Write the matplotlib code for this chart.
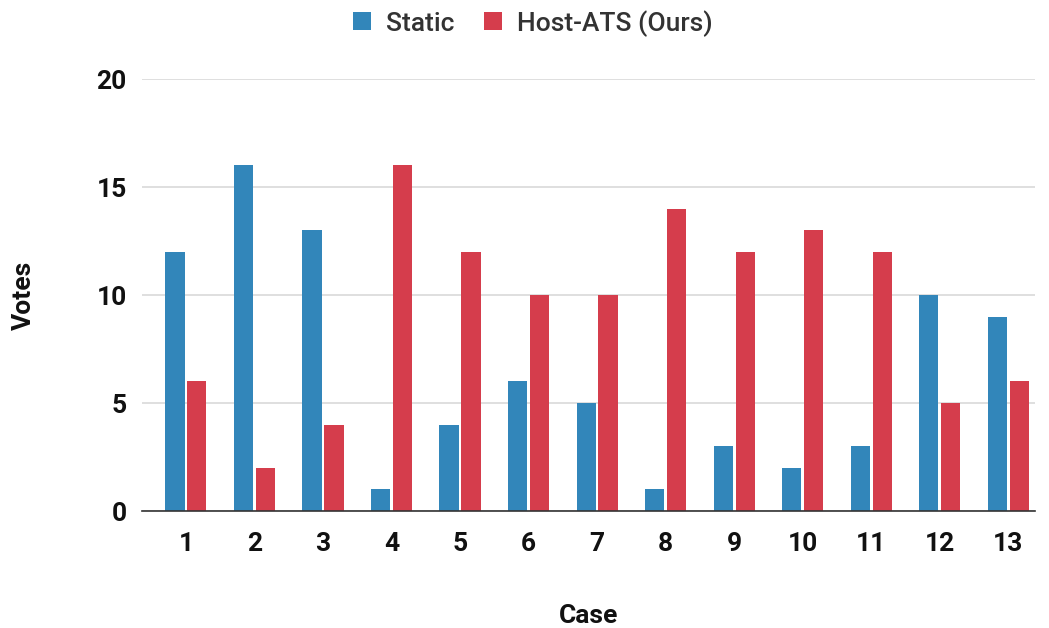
import matplotlib
matplotlib.use("Agg")
import matplotlib.pyplot as plt
import numpy as np

plt.rcParams['font.family'] = ['Roboto', 'DejaVu Sans']

cases = ['1', '2', '3', '4', '5', '6', '7', '8', '9', '10', '11', '12', '13']
static_votes = [12, 16, 13, 1, 4, 6, 5, 1, 3, 2, 3, 10, 9]
host_ats_votes = [6, 2, 4, 16, 12, 10, 10, 14, 12, 13, 12, 5, 6]

blue = '#3286BA'
red = '#D53D4C'

fig = plt.figure(figsize=(10.49, 6.28), dpi=100)
ax = fig.add_axes([0.1354, 0.1863, 0.8513, 0.6879])

x = np.arange(len(cases))
w = 0.28
gap = 0.02
ax.bar(x - w / 2 - gap, static_votes, w, color=blue, label='Static', zorder=3)
ax.bar(x + w / 2 + gap, host_ats_votes, w, color=red, label='Host-ATS (Ours)', zorder=3)

ax.set_xlim(-0.64, 12.39)
ax.set_ylim(0, 20)
ax.set_yticks([0, 5, 10, 15, 20])
ax.set_xticks(x)
ax.set_xticklabels(cases)
ax.yaxis.grid(True, color='#d9d9d9', linewidth=1.2, zorder=0)
for s in ['top', 'right', 'left']:
    ax.spines[s].set_visible(False)
ax.spines['bottom'].set_color('#333333')
ax.spines['bottom'].set_linewidth(1.2)
ax.spines['bottom'].set_zorder(4)
ax.tick_params(axis='both', length=0, labelsize=19, colors='#111111')
ax.tick_params(axis='x', pad=15)
ax.tick_params(axis='y', pad=11)
for lbl in ax.get_xticklabels() + ax.get_yticklabels():
    lbl.set_fontweight('bold')

ax.set_xlabel('Case', fontsize=19, fontweight='bold', color='#111111', labelpad=35)
ax.set_ylabel('Votes', fontsize=19, fontweight='bold', color='#111111', labelpad=44)

fig.legend(loc='upper center', bbox_to_anchor=(0.508, 1.022), ncol=2, frameon=False,
           prop={'size': 19, 'weight': 'medium'}, handlelength=0.68, handleheight=0.68,
           columnspacing=1.15, handletextpad=0.57, labelcolor='#333333')

fig.savefig('out.png', dpi=100)
